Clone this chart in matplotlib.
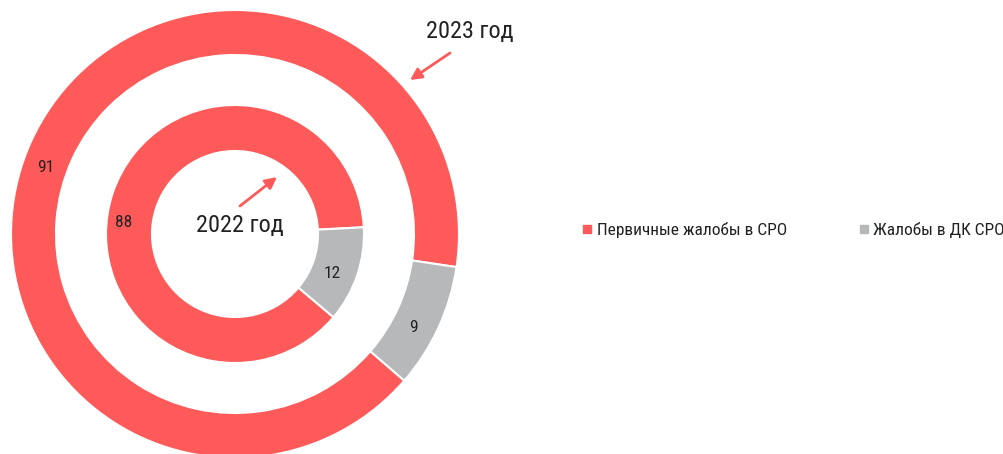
import matplotlib
matplotlib.use("Agg")
import matplotlib.pyplot as plt
from matplotlib.lines import Line2D

# данные
categories = ["Первичные жалобы в СРО", "Жалобы в ДК СРО"]
values_2023 = [91, 9]
values_2022 = [88, 12]
ring_titles = ["2023 год", "2022 год"]

RED = "#FF5A5A"
GRAY = "#B7B8BA"
TXT = "#222222"
colors = [RED, GRAY]

plt.rcParams['font.family'] = ['Roboto Condensed', 'PT Sans Narrow', 'Roboto', 'DejaVu Sans']

W, H = 1004, 454
fig = plt.figure(figsize=(W / 100, H / 100), dpi=100)
ax = fig.add_axes([0, 0, 1, 1])

# геометрия в пикселях (y вверх)
cx, cy = 235, H - 234
wp = dict(edgecolor="white", linewidth=1.5)

outer, _ = ax.pie(values_2023, colors=colors, startangle=-8.5, center=(cx, cy),
                  radius=224, wedgeprops=dict(width=45, **wp), frame=True)
inner, _ = ax.pie(values_2022, colors=colors, startangle=3, center=(cx, cy),
                  radius=129, wedgeprops=dict(width=46, **wp), frame=True)

ax.set_xlim(0, W)
ax.set_ylim(0, H)
ax.set_aspect("equal")
ax.axis("off")

# подписи значений (положения как в Excel)
label_pos_outer = [(46, 168), (413, 327)]
label_pos_inner = [(124, 223), (332, 273)]
for v, (x, y) in zip(values_2023, label_pos_outer):
    ax.text(x, H - y, str(v), ha="center", va="center", fontsize=12.5, color=TXT)
for v, (x, y) in zip(values_2022, label_pos_inner):
    ax.text(x, H - y, str(v), ha="center", va="center", fontsize=12.5, color=TXT)

# заголовки колец со стрелками
arrow = dict(arrowstyle="-|>", color=RED, lw=2, mutation_scale=17, shrinkA=0, shrinkB=0)
ax.text(470, H - 32, ring_titles[0], ha="center", va="center", fontsize=17.5, color=TXT)
ax.annotate("", xy=(410, H - 80), xytext=(450, H - 53), arrowprops=arrow)
ax.text(240, H - 226, ring_titles[1], ha="center", va="center", fontsize=17.5, color=TXT)
ax.annotate("", xy=(277, H - 177), xytext=(240, H - 206), arrowprops=arrow)

# легенда
handles = [Line2D([], [], marker="s", linestyle="none", markersize=5.2,
                  markerfacecolor=c, markeredgecolor=c) for c in colors]
ax.legend(handles, categories, loc="center left", bbox_to_anchor=(583 / W, 1 - 230 / H),
          ncol=2, frameon=False, fontsize=12.5, handlelength=0.5, handletextpad=0.3,
          columnspacing=4.15, borderpad=0, borderaxespad=0, labelcolor=TXT)

fig.savefig("out.png", dpi=100)
